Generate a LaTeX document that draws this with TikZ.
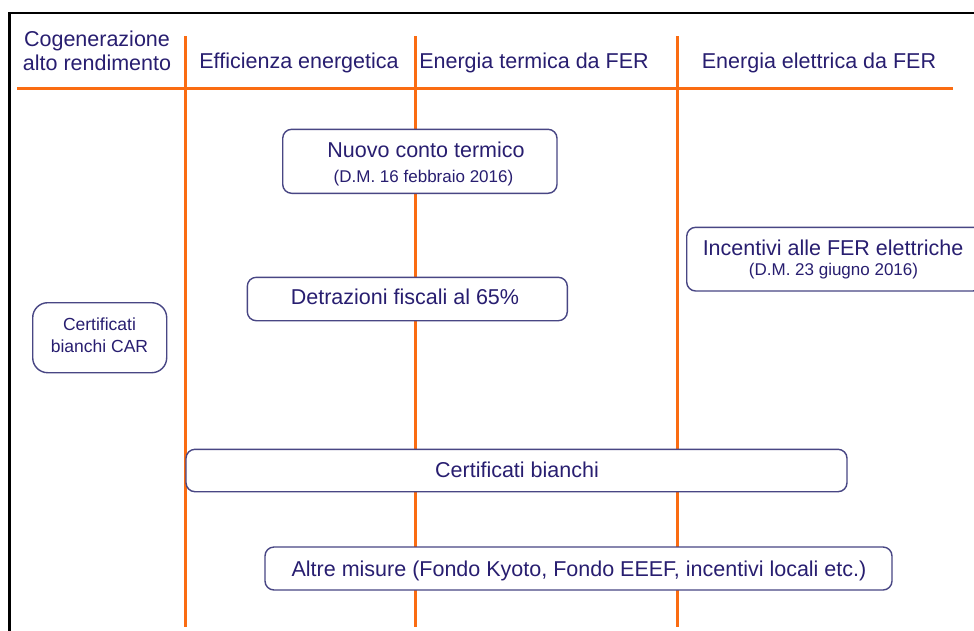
\documentclass[tikz,border=0pt]{standalone}
\usepackage{fontspec}
\setmainfont{Liberation Sans}
\definecolor{ornge}{RGB}{250,108,18}
\definecolor{navy}{RGB}{40,30,112}
\definecolor{boxline}{RGB}{72,70,132}
\begin{document}
\begin{tikzpicture}[x=1pt,y=-1pt,
  big/.style={font=\fontsize{21.5}{25}\selectfont, text=navy, inner sep=0pt, anchor=base},
  small/.style={font=\fontsize{17}{20}\selectfont, text=navy, inner sep=0pt, anchor=base},
  mid/.style={font=\fontsize{17.5}{21}\selectfont, text=navy, inner sep=0pt, anchor=base},
  orline/.style={draw=ornge, line width=3pt},
  rbox/.style={draw=boxline, fill=white, line width=1.4pt, rounded corners=9pt}]
\useasboundingbox (0,0) rectangle (974,630);
\clip (0,0) rectangle (974,630);
\fill[white] (0,0) rectangle (974,630);
% frame
\coordinate (fbl) at (9.5,632);
\coordinate (ftl) at (9.5,13);
\coordinate (ftr) at (976,13);
\draw[black, line width=2.5pt] (fbl) -- (ftl) -- (ftr);
% orange grid
\coordinate (hl) at (17,88);
\coordinate (hr) at (953,88);
\draw[orline] (hl) -- (hr);
\coordinate (v1t) at (185,36); \coordinate (v1b) at (185,627);
\coordinate (v2t) at (415.5,36); \coordinate (v2b) at (415.5,627);
\coordinate (v3t) at (677,36); \coordinate (v3b) at (677,627);
\draw[orline] (v1t) -- (v1b);
\draw[orline] (v2t) -- (v2b);
\draw[orline] (v3t) -- (v3b);
% headers
\node[big] (h1a) at (97,46) {Cogenerazione};
\node[big] (h1b) at (97,70.5) {alto rendimento};
\node[big] (h2) at (299,68.5) {Efficienza energetica};
\node[big] (h3) at (534,68.5) {Energia termica da FER};
\node[big] (h4) at (819,68.5) {Energia elettrica da FER};
% boxes
\draw[rbox] (282.7,129.3) rectangle (557,193.3);
\node[big] (b1a) at (426,157) {Nuovo conto termico};
\node[small] (b1b) at (423.5,182.7) {(D.M. 16 febbraio 2016)};

\draw[rbox] (686.7,227.3) rectangle (982,291);
\node[big] (b2a) at (833,255.7) {Incentivi alle FER elettriche};
\node[small] (b2b) at (833.5,275) {(D.M. 23 giugno 2016)};

\draw[rbox] (247.3,277.3) rectangle (567.3,320.7);
\node[big] (b3) at (405,304.5) {Detrazioni fiscali al 65\%};

\draw[rbox, rounded corners=15pt] (32.7,302.7) rectangle (166.7,372.7);
\node[mid] (b4a) at (99.5,330.7) {Certificati};
\node[mid] (b4b) at (99.5,352.7) {bianchi CAR};

\draw[rbox] (186,449.3) rectangle (847,491.7);
\node[big] (b5) at (517,477.5) {Certificati bianchi};

\draw[rbox] (265,547) rectangle (892,590);
\node[big] (b6) at (579,576.5) {Altre misure (Fondo Kyoto, Fondo EEEF, incentivi locali etc.)};
\end{tikzpicture}
\end{document}
